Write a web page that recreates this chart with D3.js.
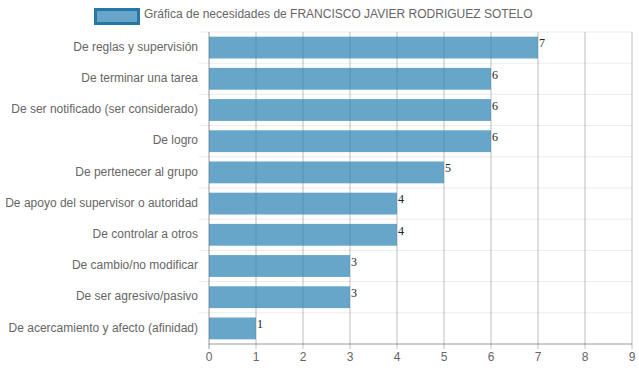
<!DOCTYPE html>
<html><head><meta charset="utf-8">
<script src="https://cdn.jsdelivr.net/npm/d3@7"></script>
<style>body{margin:0;background:#fff}svg{display:block}</style>
</head><body>
<script>
const categories = ["De reglas y supervisión","De terminar una tarea","De ser notificado (ser considerado)","De logro","De pertenecer al grupo","De apoyo del supervisor o autoridad","De controlar a otros","De cambio/no modificar","De ser agresivo/pasivo","De acercamiento y afecto (afinidad)"];
const values = [7,6,6,6,5,4,4,3,3,1];
const xTicks = [0,1,2,3,4,5,6,7,8,9];
const legendLabel = "Gráfica de necesidades de FRANCISCO JAVIER RODRIGUEZ SOTELO";

(function(){
const W = 639, H = 372;
const pL = 209, pR = 632, pT = 32, pB = 344;
const svg = d3.select("body").append("svg").attr("width", W).attr("height", H);
const x = d3.scaleLinear().domain([0, 9]).range([pL, pR]);
const yb = d3.scaleBand().domain(categories).range([pT, pB]);
const bw = yb.bandwidth();
const font = "Liberation Sans, Arial, Helvetica, sans-serif";

// horizontal category grid
svg.append("g").selectAll("line").data(categories).join("line")
  .attr("x1", pL - 10).attr("x2", pR)
  .attr("y1", d => yb(d)).attr("y2", d => yb(d))
  .attr("stroke", "rgba(0,0,0,0.08)");
// vertical grid
svg.append("g").selectAll("line").data(xTicks).join("line")
  .attr("x1", d => x(d)).attr("x2", d => x(d))
  .attr("y1", pT).attr("y2", pB + 5)
  .attr("stroke", (d) => d === 0 ? "rgba(0,0,0,0.4)" : "rgba(0,0,0,0.25)");
// x axis line
svg.append("line").attr("x1", pL).attr("x2", pR).attr("y1", pB).attr("y2", pB)
  .attr("stroke", "rgba(0,0,0,0.4)");

// bars
svg.append("g").selectAll("rect").data(values).join("rect")
  .attr("x", x(0)).attr("y", (d, i) => yb(categories[i]) + bw * 0.15)
  .attr("width", d => x(d) - x(0)).attr("height", bw * 0.7)
  .attr("fill", "rgba(40,128,178,0.7)");

// value labels
svg.append("g").selectAll("text").data(values).join("text")
  .attr("x", d => x(d) + 1).attr("y", (d, i) => yb(categories[i]) + bw * 0.15 + 8)
  .attr("dominant-baseline", "middle")
  .attr("font-family", "Liberation Serif, Times New Roman, serif").attr("font-size", 12)
  .attr("fill", "#222").text(d => d);

// category labels
svg.append("g").selectAll("text").data(categories).join("text")
  .attr("x", pL - 11).attr("y", d => yb(d) + bw / 2)
  .attr("text-anchor", "end").attr("dominant-baseline", "middle")
  .attr("font-family", font).attr("font-size", 12).attr("fill", "#666").text(d => d);

// x tick labels
svg.append("g").selectAll("text").data(xTicks).join("text")
  .attr("x", d => x(d)).attr("y", 358)
  .attr("text-anchor", "middle").attr("dominant-baseline", "middle")
  .attr("font-family", font).attr("font-size", 12).attr("fill", "#666").text(d => d);

// legend
svg.append("rect").attr("x", 95.5).attr("y", 9.5).attr("width", 43).attr("height", 14)
  .attr("fill", "rgba(40,128,178,0.7)").attr("stroke", "rgb(40,118,165)").attr("stroke-width", 3);
svg.append("text").attr("x", 144).attr("y", 15).attr("dominant-baseline", "middle")
  .attr("font-family", font).attr("font-size", 12).attr("fill", "#666").text(legendLabel);
})();
</script>
</body></html>
